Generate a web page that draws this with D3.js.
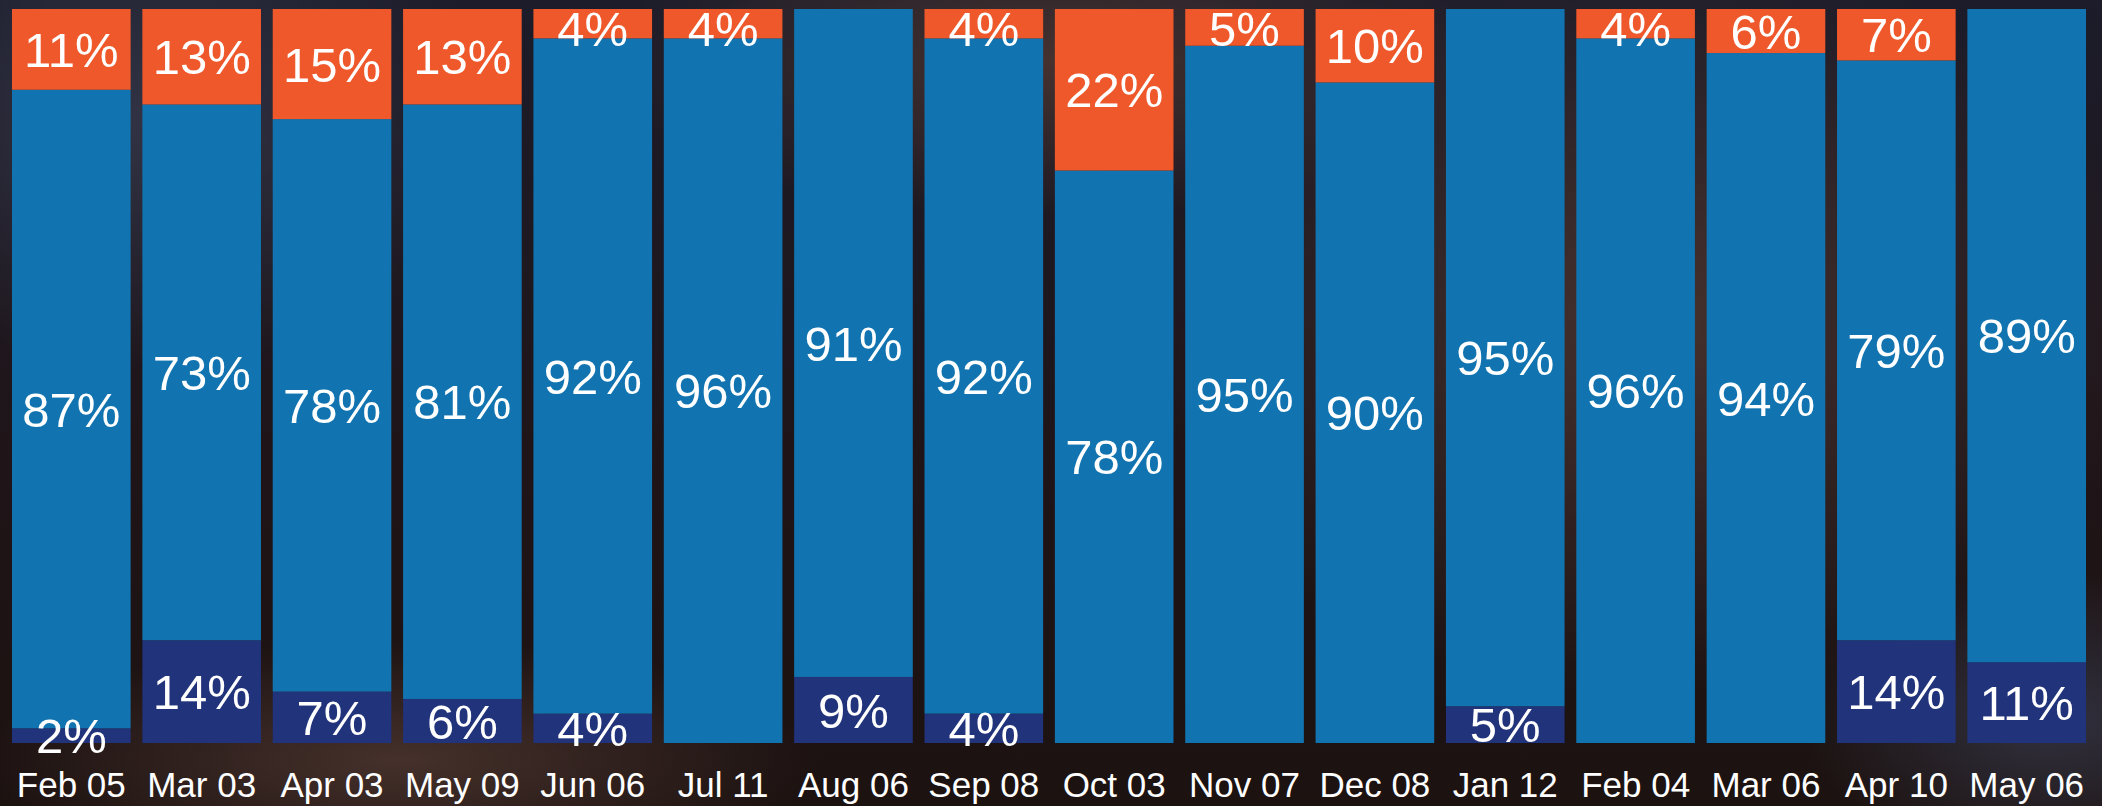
<!DOCTYPE html>
<html lang="en">
	<head>
		<meta charset="utf-8">
		<script src="https://d3js.org/d3.v7.min.js"></script>
		<style>
			body { margin: 0; background: #17131a; }
			svg { display: block; }
		</style>
	</head>
	<body>
		<script type="text/javascript">

			//Width and height
			var w = 2102;
			var h = 806;

			//Data
			var months = ["Feb 05", "Mar 03", "Apr 03", "May 09", "Jun 06", "Jul 11", "Aug 06", "Sep 08",
			              "Oct 03", "Nov 07", "Dec 08", "Jan 12", "Feb 04", "Mar 06", "Apr 10", "May 06"];
			var bottomVals = [2, 14, 7, 6, 4, 0, 9, 4, 0, 0, 0, 5, 0, 0, 14, 11];
			var middleVals = [87, 73, 78, 81, 92, 96, 91, 92, 78, 95, 90, 95, 96, 94, 79, 89];
			var topVals    = [11, 13, 15, 13, 4, 4, 0, 4, 22, 5, 10, 0, 4, 6, 7, 0];
			var seriesKeys = ["bottom", "middle", "top"];
			var seriesColors = ["#21337a", "#1174b0", "#ee582b"];

			var rows = months.map(function(m, i) {
				return { month: m, bottom: bottomVals[i], middle: middleVals[i], top: topVals[i] };
			});

			//Create SVG element
			var svg = d3.select("body")
						.append("svg")
						.attr("width", w)
						.attr("height", h);

			//Dark photo-ish background
			var defs = svg.append("defs");
			var bg = defs.append("linearGradient")
				.attr("id", "bg")
				.attr("x1", 0).attr("y1", 0).attr("x2", 0).attr("y2", 1);
			bg.append("stop").attr("offset", "0%").attr("stop-color", "#1c1c2a");
			bg.append("stop").attr("offset", "55%").attr("stop-color", "#1f1519");
			bg.append("stop").attr("offset", "100%").attr("stop-color", "#1c1210");

			var glow1 = defs.append("radialGradient").attr("id", "glow1");
			glow1.append("stop").attr("offset", "0%").attr("stop-color", "#4d3630").attr("stop-opacity", 0.85);
			glow1.append("stop").attr("offset", "100%").attr("stop-color", "#4d3630").attr("stop-opacity", 0);

			var glow2 = defs.append("radialGradient").attr("id", "glow2");
			glow2.append("stop").attr("offset", "0%").attr("stop-color", "#3a3e52").attr("stop-opacity", 0.7);
			glow2.append("stop").attr("offset", "100%").attr("stop-color", "#3a3e52").attr("stop-opacity", 0);

			svg.append("rect").attr("width", w).attr("height", h).attr("fill", "url(#bg)");
			svg.append("ellipse").attr("cx", 1650).attr("cy", 320).attr("rx", 500).attr("ry", 380).attr("fill", "url(#glow1)");
			svg.append("ellipse").attr("cx", 1050).attr("cy", 60).attr("rx", 450).attr("ry", 160).attr("fill", "url(#glow1)");
			svg.append("ellipse").attr("cx", 400).attr("cy", 760).attr("rx", 420).attr("ry", 120).attr("fill", "url(#glow1)");
			svg.append("ellipse").attr("cx", 150).attr("cy", 120).attr("rx", 350).attr("ry", 250).attr("fill", "url(#glow2)");
			svg.append("ellipse").attr("cx", 2050).attr("cy", 720).attr("rx", 250).attr("ry", 150).attr("fill", "url(#glow2)");

			//Scales
			var x = d3.scaleBand()
				.domain(months)
				.range([12, 2086])
				.paddingInner(0.09)
				.paddingOuter(0);

			var y = d3.scaleLinear()
				.domain([0, 100])
				.range([743, 9]);

			var stacked = d3.stack().keys(seriesKeys)(rows);

			var layers = svg.selectAll("g.layer")
				.data(stacked)
				.enter()
				.append("g")
				.attr("class", "layer")
				.attr("fill", function(d, i) { return seriesColors[i]; });

			layers.selectAll("rect")
				.data(function(d) { return d; })
				.enter()
				.append("rect")
				.attr("x", function(d) { return x(d.data.month); })
				.attr("y", function(d) { return y(d[1]); })
				.attr("width", x.bandwidth())
				.attr("height", function(d) { return y(d[0]) - y(d[1]); });

			//Value labels
			var labels = [];
			stacked.forEach(function(layer) {
				layer.forEach(function(d) {
					var v = d[1] - d[0];
					if (v > 0) labels.push({ month: d.data.month, v: v, mid: (d[0] + d[1]) / 2 });
				});
			});

			svg.append("g")
				.selectAll("text")
				.data(labels)
				.enter()
				.append("text")
				.attr("x", function(d) { return x(d.month) + x.bandwidth() / 2; })
				// small top segments: keep the label inside the picture
				.attr("y", function(d) { return Math.max(y(d.mid), 28); })
				.attr("dy", "0.36em")
				.attr("text-anchor", "middle")
				.attr("fill", "#ffffff")
				.style("font-family", "'Liberation Sans', Arial, sans-serif")
				.style("font-size", "49px")
				.text(function(d) { return d.v + "%"; });

			//Month axis
			var axis = svg.append("g")
				.attr("transform", "translate(0,743)")
				.call(d3.axisBottom(x).tickSize(0).tickPadding(54));
			axis.select(".domain").remove();
			axis.selectAll("text")
				.attr("fill", "#ffffff")
				.attr("dy", 0)
				.style("font-family", "'Liberation Sans', Arial, sans-serif")
				.style("font-size", "35px");

		</script>
	</body>
</html>
